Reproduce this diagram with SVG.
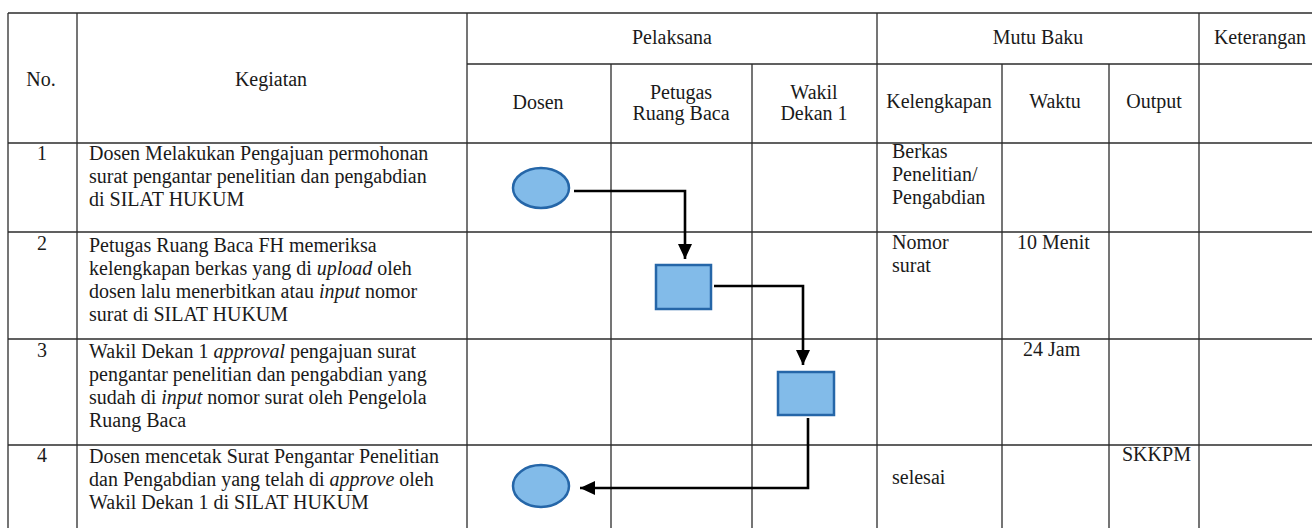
<svg xmlns="http://www.w3.org/2000/svg" width="1312" height="528" viewBox="0 0 1312 528">
<style>
text{font-family:"Liberation Serif","Times New Roman",serif;font-size:20px;fill:#1a1a1a}
.c{text-anchor:middle}
.i{font-style:italic}
.grid line{stroke:#2b2b2b;stroke-width:1.3}
.node{fill:#82bbe9;stroke:#2566a8;stroke-width:2.5}
.conn{fill:none;stroke:#000;stroke-width:2.6}
</style>
<defs>
<marker id="ah" markerUnits="userSpaceOnUse" markerWidth="16" markerHeight="16" viewBox="0 0 16 16" refX="15" refY="8" orient="auto">
<path d="M0,1 L15,8 L0,15 Z" fill="#000"/>
</marker>
</defs>
<rect width="1312" height="528" fill="#fff"/>
<g class="grid">
<line x1="8" y1="13" x2="1312" y2="13"/>
<line x1="467" y1="64" x2="1312" y2="64"/>
<line x1="8" y1="143" x2="1312" y2="143"/>
<line x1="8" y1="232" x2="1312" y2="232"/>
<line x1="8" y1="339" x2="1312" y2="339"/>
<line x1="8" y1="445" x2="1312" y2="445"/>
<line x1="8" y1="13" x2="8" y2="528"/>
<line x1="77" y1="13" x2="77" y2="528"/>
<line x1="467" y1="13" x2="467" y2="528"/>
<line x1="611" y1="64" x2="611" y2="528"/>
<line x1="752" y1="64" x2="752" y2="528"/>
<line x1="877" y1="13" x2="877" y2="528"/>
<line x1="1002" y1="64" x2="1002" y2="528"/>
<line x1="1109" y1="64" x2="1109" y2="528"/>
<line x1="1199" y1="13" x2="1199" y2="528"/>
</g>
<g id="header">
<text class="c" x="41" y="86">No.</text>
<text class="c" x="271" y="86">Kegiatan</text>
<text class="c" x="672" y="44">Pelaksana</text>
<text class="c" x="1038" y="44">Mutu Baku</text>
<text class="c" x="1260" y="44">Keterangan</text>
<text class="c" x="538" y="109">Dosen</text>
<text class="c" x="681" y="99">Petugas</text>
<text class="c" x="681" y="120">Ruang Baca</text>
<text class="c" x="814" y="99">Wakil</text>
<text class="c" x="814" y="120">Dekan 1</text>
<text class="c" x="939" y="108">Kelengkapan</text>
<text class="c" x="1055" y="108">Waktu</text>
<text class="c" x="1154" y="108">Output</text>
</g>
<g id="rows">
<text class="c" x="42" y="160">1</text>
<text x="89" y="160">Dosen Melakukan Pengajuan permohonan</text>
<text x="89" y="183">surat pengantar penelitian dan pengabdian</text>
<text x="89" y="206">di SILAT HUKUM</text>
<text x="892" y="158">Berkas</text>
<text x="892" y="181">Penelitian/</text>
<text x="892" y="204">Pengabdian</text>

<text class="c" x="42" y="250">2</text>
<text x="89" y="252">Petugas Ruang Baca FH memeriksa</text>
<text x="89" y="275">kelengkapan berkas yang di <tspan class="i">upload</tspan> oleh</text>
<text x="89" y="298">dosen lalu menerbitkan atau <tspan class="i">input</tspan> nomor</text>
<text x="89" y="321">surat di SILAT HUKUM</text>
<text x="892" y="249">Nomor</text>
<text x="892" y="272">surat</text>
<text x="1017" y="249">10 Menit</text>

<text class="c" x="42" y="357">3</text>
<text x="89" y="358">Wakil Dekan 1 <tspan class="i">approval</tspan> pengajuan surat</text>
<text x="89" y="381">pengantar penelitian dan pengabdian yang</text>
<text x="89" y="404">sudah di <tspan class="i">input</tspan> nomor surat oleh Pengelola</text>
<text x="89" y="427">Ruang Baca</text>
<text x="1023" y="356">24 Jam</text>

<text class="c" x="42" y="462">4</text>
<text x="89" y="463">Dosen mencetak Surat Pengantar Penelitian</text>
<text x="89" y="486">dan Pengabdian yang telah di <tspan class="i">approve</tspan> oleh</text>
<text x="89" y="509">Wakil Dekan 1 di SILAT HUKUM</text>
<text x="892" y="484">selesai</text>
<text x="1122" y="461">SKKPM</text>
</g>
<g id="connectors">
<path class="conn" d="M574,191 H685 V259" marker-end="url(#ah)"/>
<path class="conn" d="M714,286 H803 V365" marker-end="url(#ah)"/>
<path class="conn" d="M808,418 V488 H580" marker-end="url(#ah)"/>
</g>
<g id="start"><ellipse class="node" cx="541" cy="188" rx="28" ry="20"/></g>
<g id="step2"><rect class="node" x="656" y="265" width="55" height="44"/></g>
<g id="step3"><rect class="node" x="778" y="372" width="56" height="43"/></g>
<g id="end"><ellipse class="node" cx="541" cy="486" rx="28" ry="21"/></g>
</svg>
